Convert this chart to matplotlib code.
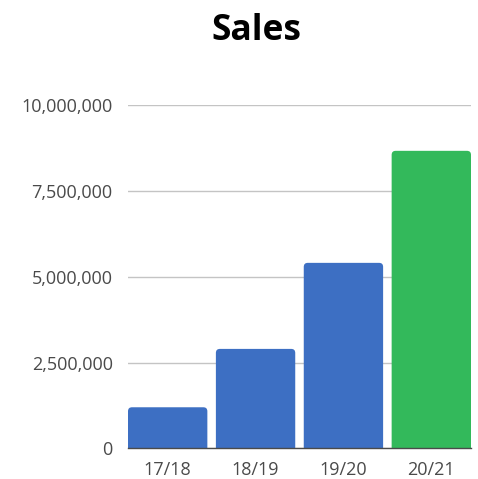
import matplotlib
matplotlib.use("Agg")
import matplotlib.pyplot as plt
from matplotlib.patches import FancyBboxPatch
from matplotlib.ticker import FuncFormatter

categories = ["17/18", "18/19", "19/20", "20/21"]
sales = [1196000, 2897000, 5405000, 8670000]
colors = ["#3d6fc3", "#3d6fc3", "#3d6fc3", "#33b95b"]
yticks = [0, 2500000, 5000000, 7500000, 10000000]

plt.rcParams['font.family'] = ['Open Sans', 'DejaVu Sans']

W, H = 478, 479
fig = plt.figure(figsize=(W/100, H/100), dpi=100)
left, right, bottom, top = 128, 471, 448.3, 105.2
ax = fig.add_axes([left/W, (H-bottom)/H, (right-left)/W, (bottom-top)/H])

bw = 0.903
bars = ax.bar(range(len(categories)), sales, width=bw, color=colors)
ax.set_ylim(0, 10000000)
ax.set_xlim(-bw/2, len(categories)-1+bw/2)

xr = len(categories)-1+bw
px_x = xr / (right-left)
px_y = 10000000 / (bottom-top)
r_px = 4
for b in bars:
    x0, w, h = b.get_x(), b.get_width(), b.get_height()
    b.set_visible(False)
    rx = r_px*px_x
    p = FancyBboxPatch((x0, -r_px*2*px_y), w, h + r_px*2*px_y,
                       boxstyle=f"round,pad=0,rounding_size={rx}",
                       mutation_aspect=px_y/px_x,
                       facecolor=b.get_facecolor(), edgecolor='none', clip_on=True)
    ax.add_patch(p)

ax.set_yticks(yticks)
ax.yaxis.set_major_formatter(FuncFormatter(lambda v, p: f"{int(v):,}"))
ax.set_xticks(range(len(categories)))
ax.set_xticklabels(categories)
ax.grid(axis='y', color='#c4c4c4', linewidth=1)
ax.set_axisbelow(True)
for s in ['top', 'right', 'left']:
    ax.spines[s].set_visible(False)
ax.spines['bottom'].set_color('#4a4a4a')
ax.spines['bottom'].set_linewidth(1.0)
ax.spines['bottom'].set_zorder(5)
ax.tick_params(axis='both', length=0, labelsize=13, labelcolor='#4a4a4a')
ax.tick_params(axis='y', pad=11)
ax.tick_params(axis='x', pad=9)

fig.text(256/W, 1-31/H, "Sales", ha='center', va='center', fontsize=25.5,
         fontweight='bold', color='black')

fig.savefig("out.png", dpi=100)
